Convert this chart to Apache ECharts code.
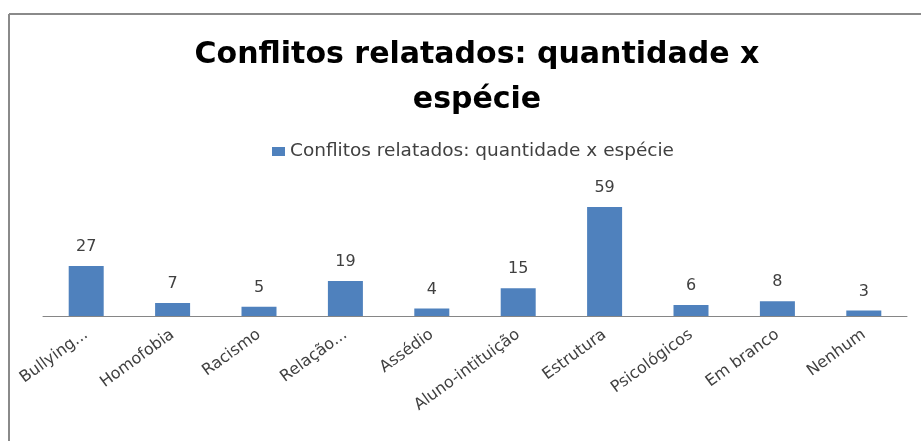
<!DOCTYPE html>
<html><head><meta charset="utf-8">
<script src="https://cdn.jsdelivr.net/npm/echarts@6/dist/echarts.min.js"></script>
<style>html,body{margin:0;padding:0;background:#fff}#c{width:921px;height:441px}</style>
</head><body><div id="c"></div>
<script>
const categories = ["Bullying...", "Homofobia", "Racismo", "Relação...", "Assédio", "Aluno-intituição", "Estrutura", "Psicológicos", "Em branco", "Nenhum"];
const values = [27, 7, 5, 19, 4, 15, 59, 6, 8, 3];
const seriesName = "Conflitos relatados: quantidade x espécie";
const titleText = "Conflitos relatados: quantidade x\nespécie";

const chart = echarts.init(document.getElementById('c'), null, {renderer: 'canvas'});
chart.setOption({
  animation: false,
  backgroundColor: '#fff',
  graphic: [
    {type: 'line', shape: {x1: 9, y1: 14, x2: 921, y2: 14}, style: {stroke: '#8a8a8a', lineWidth: 2}},
    {type: 'line', shape: {x1: 9, y1: 14, x2: 9, y2: 441}, style: {stroke: '#8a8a8a', lineWidth: 2}}
  ],
  title: {
    text: titleText,
    left: 472, top: 28, textAlign: 'center',
    textStyle: {fontFamily: 'DejaVu Sans', fontWeight: 'bold', fontSize: 30, lineHeight: 45, color: '#000'}
  },
  legend: {
    data: [seriesName], top: 137, left: 267,
    itemWidth: 13, itemHeight: 9, itemGap: 6,
    icon: 'rect',
    textStyle: {fontFamily: 'DejaVu Sans', fontSize: 18.5, color: '#404040'}
  },
  grid: {left: 43, right: 14, top: 186.6, bottom: 125, containLabel: false},
  xAxis: {
    type: 'category', data: categories,
    axisLine: {lineStyle: {color: '#868686', width: 1}},
    axisTick: {show: false},
    axisLabel: {rotate: 36, interval: 0, margin: 17, fontFamily: 'DejaVu Sans', fontSize: 16, color: '#404040'}
  },
  yAxis: {type: 'value', min: 0, max: 70, show: false, splitLine: {show: false}},
  series: [{
    name: seriesName, type: 'bar', data: values, barWidth: 35,
    itemStyle: {color: '#4F81BD'},
    label: {show: true, position: 'top', distance: 11, fontFamily: 'DejaVu Sans', fontSize: 16, color: '#404040'}
  }]
});
</script></body></html>
